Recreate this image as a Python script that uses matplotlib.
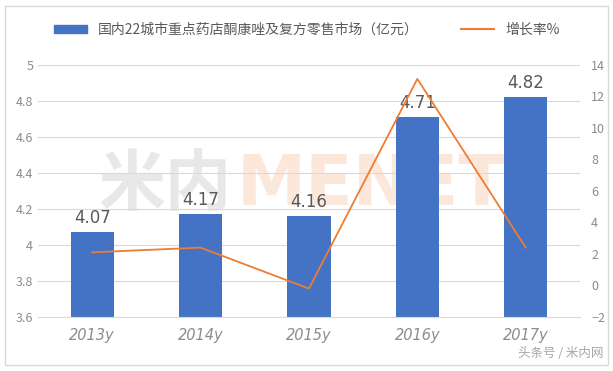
import matplotlib
matplotlib.use("Agg")
import matplotlib.pyplot as plt
from matplotlib.patches import Rectangle
from matplotlib.lines import Line2D

plt.rcParams['font.family'] = ['Noto Sans CJK SC', 'DejaVu Sans']

years = ["2013y", "2014y", "2015y", "2016y", "2017y"]
market = [4.07, 4.17, 4.16, 4.71, 4.82]
growth = [2.1, 2.4, -0.2, 13.1, 2.4]

bar_label = "国内22城市重点药店酮康唑及复方零售市场（亿元）"
line_label = "增长率%"

BLUE = "#4472C4"
ORANGE = "#ED7D31"
GRAY = "#8c8c8c"

fig = plt.figure(figsize=(6.13, 3.71), dpi=100)
fig.patches.append(Rectangle((0.008, 0.015), 0.984, 0.97, transform=fig.transFigure,
                             fill=False, edgecolor="#d9d9d9", lw=1))

ax = fig.add_axes([0.062, 0.1456, 0.884, 0.68])
x = range(len(years))

# watermark behind the data
ax.text(0.235, 0.52, "米内", transform=ax.transAxes, fontsize=48, fontweight="bold",
        color="#e8e8e8", ha="center", va="center", zorder=1)
ax.text(0.615, 0.52, "MENET", transform=ax.transAxes, fontsize=50, fontweight="bold",
        color="#fce8da", ha="center", va="center", zorder=1, family="DejaVu Sans")

ax.bar(x, market, width=0.4, color=BLUE, zorder=2)
for xi, v in zip(x, market):
    ax.text(xi, v + 0.03, f"{v:.2f}", ha="center", va="bottom", fontsize=12,
            color="#595959", zorder=4, family="DejaVu Sans")

ax.set_ylim(3.6, 5.0)
ax.set_yticks([3.6, 3.8, 4.0, 4.2, 4.4, 4.6, 4.8, 5.0])
ax.set_yticklabels(["3.6", "3.8", "4", "4.2", "4.4", "4.6", "4.8", "5"])
ax.set_xlim(-0.5, 4.5)
ax.set_xticks(list(x))
ax.set_xticklabels(years, fontstyle="italic", fontsize=10.5, color=GRAY,
                   family="DejaVu Sans")
ax.grid(axis="y", color="#d9d9d9", lw=0.8, zorder=0)
ax.tick_params(axis="both", length=0, labelsize=9, colors=GRAY)
ax.tick_params(axis="x", pad=8, labelsize=10.5)
for s in ax.spines.values():
    s.set_visible(False)
ax.spines["bottom"].set_visible(True)
ax.spines["bottom"].set_color("#d9d9d9")

ax2 = ax.twinx()
ax2.plot(x, growth, color=ORANGE, lw=1.3, zorder=3)
ax2.set_ylim(-2, 14)
ax2.set_yticks(range(-2, 15, 2))
ax2.tick_params(axis="y", length=0, labelsize=9, colors=GRAY, pad=8)
for s in ax2.spines.values():
    s.set_visible(False)

handles = [Rectangle((0, 0), 1, 1, color=BLUE), Line2D([], [], color=ORANGE, lw=1.5)]
fig.legend(handles, [bar_label, line_label], loc="center", bbox_to_anchor=(0.5, 0.92),
           ncol=2, frameon=False, fontsize=10, labelcolor="#595959",
           handlelength=2.4, handleheight=0.5, columnspacing=3)

fig.text(0.985, 0.03, "头条号 / 米内网", fontsize=9, color="#a6a6a6", ha="right", va="bottom")

fig.savefig("out.png", dpi=100)
